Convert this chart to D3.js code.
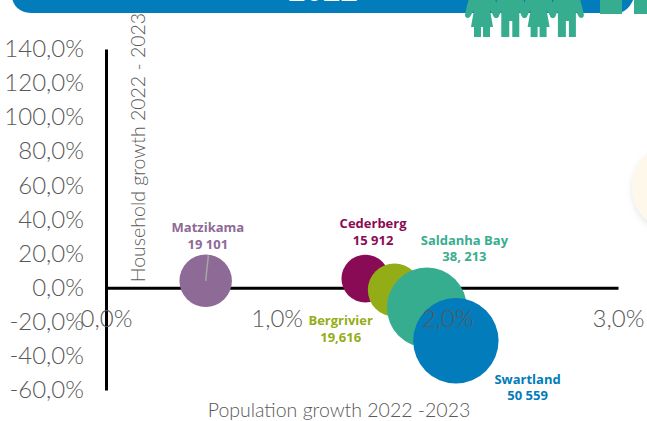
<!DOCTYPE html>
<html><head><meta charset="utf-8">
<script src="https://cdn.jsdelivr.net/npm/d3@7/dist/d3.min.js"></script>
<style>html,body{margin:0;padding:0;background:#fff;overflow:hidden}svg{display:block}</style>
</head><body><div id="chart"></div>
<script>
const municipalities = ["Matzikama","Cederberg","Bergrivier","Saldanha Bay","Swartland","West Coast"];
const populationGrowth = [0.584,1.52,1.69,1.88,2.05,3.34];
const householdGrowth = [4.1,5.3,-1.35,-11.6,-31.1,59];
const bubbleSizes = [19101,15912,19616,44300,50559,53600];
const bubbleColors = ["#8e6a96","#8a0b55","#93ad16","#37ad90","#027cba","#fdf8ea"];
const labelLines = [["Matzikama","19 101"],["Cederberg","15 912"],["Bergrivier","19,616"],["Saldanha Bay","38, 213"],["Swartland","50 559"],[]];
const labelX = [0.597,1.565,1.375,2.1,2.47,0];
const labelY = [32.4,34.8,-22,25,-56.2,0];
const xTicks = [0,1,2,3];
const yTicks = [-60,-40,-20,0,20,40,60,80,100,120,140];
const xTitle = "Population growth 2022 -2023";
const yTitle = "Household growth 2022 - 2023";
const headerText = "2022";
const fontFamily = "'Lato','Open Sans',sans-serif";
const labelFont = "'Open Sans','Lato',sans-serif";

const svg = d3.select("#chart").append("svg").attr("width",647).attr("height",421);
const defs = svg.append("defs");
const f = defs.append("filter").attr("id","soft").attr("x","-30%").attr("y","-30%").attr("width","160%").attr("height","160%");
f.append("feDropShadow").attr("dx",0).attr("dy",3).attr("stdDeviation",3).attr("flood-color","#000").attr("flood-opacity",0.1);

const x = d3.scaleLinear().domain([0,3]).range([106,618]);
const y = d3.scaleLinear().domain([-60,140]).range([390,49]);
const r = d3.scaleSqrt().domain([0,50559]).range([0,42.7]);

// header band
svg.append("path").attr("d","M12,-2 C14,8 22,13 32,13 L616,13 C624,13 630,8 634,-2 Z").attr("fill","#027cba");
svg.append("text").attr("x",323).attr("y",1).attr("text-anchor","middle").attr("fill","#fff")
  .attr("font-family",fontFamily).attr("font-weight",700).attr("font-size",30).text(headerText);

// people icons
const people = svg.append("g").attr("fill","#37ad90");
const dress = "M-13,-1 L13,-1 C15,5 16,10 17,15 Q17,18 14,18 Q12,18 11,15 L8,10 L11,27 L8,27 L8,37 L1,37 L1,27 L-1,27 L-1,37 L-8,37 L-8,27 L-11,27 L-8,10 L-11,15 Q-12,18 -14,18 Q-17,18 -17,15 C-16,10 -15,5 -13,-1 Z";
const suit = "M-13,-1 L13,-1 C15,5 16,10 17,15 Q17,18 14,18 Q12,18 11,15 L9,11 L9,37 L2,37 L2,21 L-1,21 L-1,37 L-9,37 L-9,11 L-11,15 Q-12,18 -14,18 Q-17,18 -17,15 C-16,10 -15,5 -13,-1 Z";
[0,1,2,3].forEach(i=>{
  people.append("path").attr("transform",`translate(${482+i*28.3},0)`).attr("d", i%2===0?dress:suit);
});
svg.append("rect").attr("x",600).attr("y",0).attr("width",22).attr("height",14).attr("fill","#37ad90");
svg.append("rect").attr("x",634).attr("y",0).attr("width",13).attr("height",14).attr("fill","#37ad90");

// axes: lines below the bubbles, tick labels above them
const tickStyle = sel=>sel.attr("font-family",fontFamily).attr("font-size",24).attr("font-weight",300).attr("fill","#595959");
const fmt = d=>d.toFixed(1).replace(".",",")+"%";
const xAxisLine = svg.append("g").attr("transform",`translate(0,${y(0)})`)
  .call(d3.axisBottom(x).tickValues([]).tickSize(0));
const yAxis = svg.append("g").attr("transform",`translate(${x(0)},0)`)
  .call(d3.axisLeft(y).tickValues(yTicks).tickFormat(fmt).tickSize(0).tickPadding(22));
[xAxisLine,yAxis].forEach(a=>a.select(".domain").attr("stroke","#000").attr("stroke-width",3));
yAxis.selectAll("text").call(tickStyle);

// bubbles
const order = d3.range(municipalities.length);
svg.append("g").selectAll("circle").data(order).join("circle")
  .attr("cx",i=>x(populationGrowth[i])).attr("cy",i=>y(householdGrowth[i]))
  .attr("r",i=>r(bubbleSizes[i])).attr("fill",i=>bubbleColors[i])
  .attr("filter",i=>i===5?"url(#soft)":null);

const xAxisText = svg.append("g").attr("transform",`translate(0,${y(0)})`)
  .call(d3.axisBottom(x).tickValues(xTicks).tickFormat(fmt).tickSize(0).tickPadding(22));
xAxisText.select(".domain").remove();
xAxisText.selectAll("text").call(tickStyle);

// Matzikama leader
svg.append("line").attr("x1",x(0.584)).attr("y1",y(4)).attr("x2",x(0.6)).attr("y2",y(19))
  .attr("stroke","#a6a6a6").attr("stroke-width",1.5);

// labels
const lab = svg.append("g").selectAll("text").data(order.filter(i=>labelLines[i].length)).join("text")
  .attr("text-anchor","middle").attr("font-family",labelFont).attr("font-weight",700).attr("font-size",13)
  .attr("fill",i=>bubbleColors[i]);
lab.selectAll("tspan").data(i=>labelLines[i].map((t,j)=>({t,j,i}))).join("tspan")
  .attr("x",d=>x(labelX[d.i])).attr("y",d=>y(labelY[d.i])+d.j*16.3).text(d=>d.t);

// axis titles
const titleStyle = sel=>sel.attr("font-family",fontFamily).attr("font-size",19.5).attr("font-weight",300).attr("fill","#595959").attr("text-anchor","middle");
svg.append("text").attr("x",339).attr("y",417).text(xTitle).call(titleStyle);
svg.append("text").attr("transform","translate(145,147.5) rotate(-90)").text(yTitle).call(titleStyle);
</script></body></html>
